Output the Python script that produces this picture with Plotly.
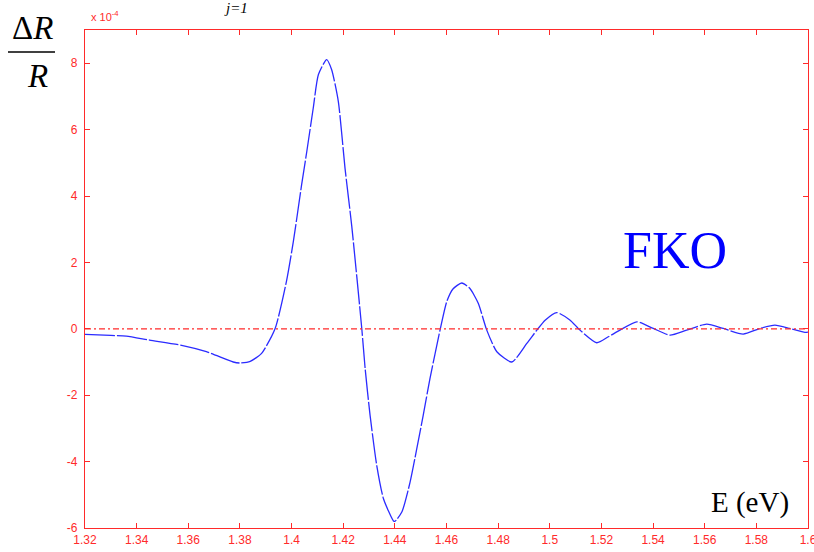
import plotly.graph_objects as go

# Electroreflectance spectrum dR/R (units of 1e-4) versus photon energy
energy = [1.320, 1.330, 1.336, 1.345, 1.357, 1.367, 1.3774, 1.380, 1.384, 1.3884,
          1.3936, 1.398, 1.4007, 1.4039, 1.4059, 1.4084, 1.4104, 1.4136, 1.4155, 1.4181,
          1.4207, 1.4233, 1.4272, 1.4285, 1.4304, 1.433, 1.4356, 1.4394, 1.4400, 1.4427,
          1.4459, 1.4485, 1.451, 1.4536, 1.4575, 1.4601, 1.4625, 1.4659, 1.469, 1.4723,
          1.4756, 1.4795, 1.4853, 1.4911, 1.495, 1.4982, 1.5027, 1.5079, 1.5117, 1.5182,
          1.5227, 1.5272, 1.5337, 1.5401, 1.5466, 1.553, 1.5608, 1.5672, 1.5749, 1.5814,
          1.5872, 1.593, 1.5988, 1.600]
dr_over_r = [-0.17, -0.20, -0.22, -0.34, -0.49, -0.69, -1.00, -1.03, -0.98, -0.74,
             0.00, 1.42, 2.63, 4.34, 5.34, 6.65, 7.66, 8.11, 7.81, 6.85,
             4.84, 3.10, 0.00, -1.20, -2.60, -4.12, -5.12, -5.78, -5.80, -5.52,
             -4.62, -3.61, -2.60, -1.50, -0.04, 0.82, 1.20, 1.38, 1.22, 0.77,
             -0.04, -0.69, -1.00, -0.44, -0.04, 0.26, 0.49, 0.26, -0.04, -0.42,
             -0.24, -0.04, 0.21, 0.01, -0.19, -0.04, 0.14, 0.01, -0.16, 0.01,
             0.11, 0.01, -0.11, -0.10]

x_ticks = [1.32, 1.34, 1.36, 1.38, 1.40, 1.42, 1.44, 1.46, 1.48, 1.50, 1.52, 1.54, 1.56, 1.58, 1.60]
x_tick_text = ["1.32", "1.34", "1.36", "1.38", "1.4", "1.42", "1.44", "1.46", "1.48",
               "1.5", "1.52", "1.54", "1.56", "1.58", "1.6"]
y_ticks = [-6, -4, -2, 0, 2, 4, 6, 8]
y_tick_text = ["-6", "-4", "-2", "0", "2", "4", "6", "8"]

RED = "#ff2a2a"
BLUE = "#2b2bff"

fig = go.Figure()
fig.add_trace(go.Scatter(
    x=energy, y=dr_over_r, mode="lines",
    line=dict(color=BLUE, width=1.3, shape="spline", smoothing=0.6, dash="30px,2px"),
    hoverinfo="skip", showlegend=False,
))

# zero reference line
fig.add_shape(type="line", xref="paper", yref="y", x0=0, x1=1, y0=0, y1=0,
              line=dict(color=RED, width=1.2, dash="6px,3px,2px,3px"))

axis_common = dict(
    showgrid=False, zeroline=False, showline=True, linecolor=RED, linewidth=1.3,
    mirror="ticks", ticks="inside", ticklen=5, tickcolor=RED, tickwidth=1.2,
    tickfont=dict(family="Liberation Sans, Arial, sans-serif", size=12, color=RED),
    automargin=False, ticklabeloverflow="allow",
)
fig.update_xaxes(range=[1.32, 1.60001], tickvals=x_ticks, ticktext=x_tick_text, **axis_common)
fig.update_yaxes(range=[-6, 9], tickvals=y_ticks, ticktext=y_tick_text, ticklabelstandoff=4,
                 **axis_common)

serif = "Liberation Serif, Times New Roman, serif"
ann = [
    dict(text="FKO", x=675, y=250, font=dict(family=serif, size=52, color="#0000ff")),
    dict(text="E (eV)", x=750, y=502, font=dict(family=serif, size=29, color="black")),
    dict(text="Δ<i>R</i>", x=32, y=28, font=dict(family=serif, size=33, color="black")),
    dict(text="<i>R</i>", x=37, y=76, font=dict(family=serif, size=33, color="black")),
    dict(text="x 10<sup>-4</sup>", x=105, y=16, font=dict(family="Liberation Sans, Arial, sans-serif", size=11, color=RED)),
    dict(text="<i>j=1</i>", x=236, y=8, font=dict(family=serif, size=15, color="black")),
]
W, H = 814, 552
annotations = []
for a in ann:
    annotations.append(dict(
        text=a["text"], xref="paper", yref="paper",
        x=(a["x"] - 85) / 723, y=(H - 24 - a["y"]) / 498,
        xanchor="center", yanchor="middle", showarrow=False, font=a["font"],
    ))
fig.update_layout(annotations=annotations)

# fraction bar of dR/R
fig.add_shape(type="line", xref="paper", yref="paper",
              x0=(8 - 85) / 723, x1=(55 - 85) / 723,
              y0=(H - 24 - 52) / 498, y1=(H - 24 - 52) / 498,
              line=dict(color="black", width=1.5))

fig.update_layout(
    width=W, height=H,
    margin=dict(l=85, r=6, t=30, b=24),
    paper_bgcolor="white", plot_bgcolor="white",
)

fig.write_html("out.html")
